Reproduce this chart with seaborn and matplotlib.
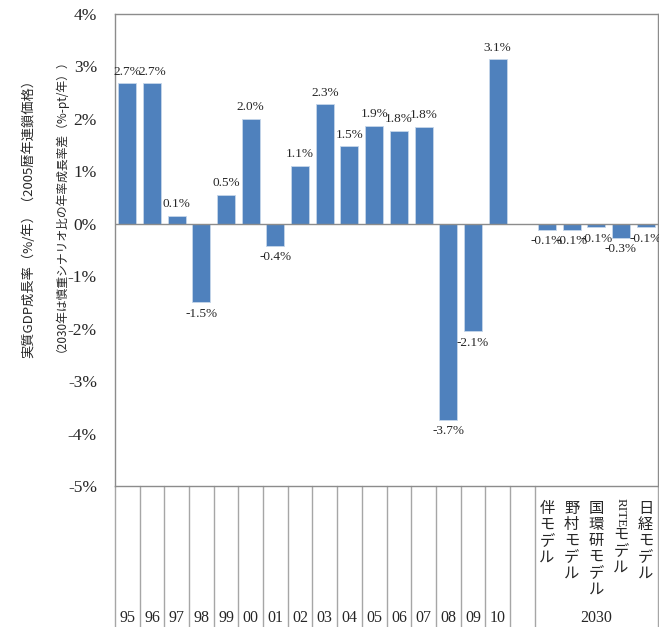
import matplotlib
matplotlib.use("Agg")
import matplotlib.pyplot as plt
import matplotlib.transforms as mtransforms
import seaborn as sns
import numpy as np
import pandas as pd

# ---------------- data ----------------
years = ["95", "96", "97", "98", "99", "00", "01", "02", "03", "04", "05", "06", "07", "08", "09", "10"]
year_values = [2.68, 2.68, 0.15, -1.50, 0.55, 2.00, -0.42, 1.11, 2.28, 1.48, 1.87, 1.77, 1.85, -3.74, -2.05, 3.14]
year_labels = ["2.7%", "2.7%", "0.1%", "-1.5%", "0.5%", "2.0%", "-0.4%", "1.1%", "2.3%", "1.5%",
               "1.9%", "1.8%", "1.8%", "-3.7%", "-2.1%", "3.1%"]
models = ["伴モデル", "野村モデル", "国環研モデル", "RITEモデル", "日経モデル"]
model_values = [-0.11, -0.11, -0.07, -0.27, -0.07]
model_labels = ["-0.1%", "-0.1%", "-0.1%", "-0.3%", "-0.1%"]
group_2030 = "2030"
yticks = [4, 3, 2, 1, 0, -1, -2, -3, -4, -5]
ylabel_line1 = "実質GDP成長率（%/年）（2005暦年連鎖価格）"
ylabel_line2 = "（2030年は慎重シナリオ比の年率成長率差（%-pt/年））"

# ---------------- build table ----------------
cats = years + ["_gap"] + models
vals = year_values + [np.nan] + model_values
labels = year_labels + [""] + model_labels
df = pd.DataFrame({"cat": cats, "val": vals})

sns.set_theme(style="white")
SERIF = ["Liberation Serif", "Noto Sans CJK JP"]
CJK = ["Noto Sans CJK JP", "DejaVu Sans"]
plt.rcParams["font.family"] = SERIF

fig = plt.figure(figsize=(6.59, 6.27), dpi=100)
AX_H = 486 - 14
ax = fig.add_axes([115 / 659, 1 - 486 / 627, (658 - 115) / 659, AX_H / 627])

sns.barplot(data=df, x="cat", y="val", order=cats, color="#4F81BD", saturation=1,
            width=0.73, edgecolor="#C6D6EA", linewidth=0.6, ax=ax)

ax.set_xlim(-0.5, len(cats) - 0.5)
ax.set_ylim(-5, 4)
ax.set_yticks(yticks)
ax.set_yticklabels([f"{t}%" for t in yticks], fontsize=12.5, family=SERIF)
ax.tick_params(axis="y", length=0, pad=13)
ax.set_xticks([])
ax.set_xlabel("")
ax.set_ylabel("")
for s in ax.spines.values():
    s.set_color("#8C8C8C")
    s.set_linewidth(1.0)
ax.axhline(0, color="#8C8C8C", lw=1.0, zorder=3)

# data labels
for i, (v, lab) in enumerate(zip(vals, labels)):
    if not lab:
        continue
    if v >= 0:
        ax.annotate(lab, (i, v), xytext=(0, 4), textcoords="offset points",
                    ha="center", va="bottom", fontsize=9.5, family=SERIF)
    else:
        ax.annotate(lab, (i, v), xytext=(0, -4), textcoords="offset points",
                    ha="center", va="top", fontsize=9.5, family=SERIF)

# bottom category table
trans = mtransforms.blended_transform_factory(ax.transData, ax.transAxes)
ybot = -(627 - 486) / AX_H
bounds = [b - 0.5 for b in range(len(years) + 2)] + [len(cats) - 0.5]
for b in bounds:
    ax.plot([b, b], [0, ybot], color="#A6A6A6", lw=1.0, transform=trans, clip_on=False)

y_year = -(618 - 486) / AX_H
for i, yr in enumerate(years):
    ax.text(i, y_year, yr, transform=trans, ha="center", va="center", fontsize=11.5, family=SERIF)

start = len(years) + 1
ax.text(start + 2, y_year, group_2030, transform=trans, ha="center", va="center",
        fontsize=11.5, family=SERIF)

y_top = -(500 - 486) / AX_H
for k, name in enumerate(models):
    x = start + k
    if name.startswith("RITE"):
        ax.text(x, y_top + 0.004, "RITE", transform=trans, ha="center", va="top",
                rotation=-90, fontsize=9.5, family=SERIF)
        rest = name[4:]
        yy = y_top - 26 / AX_H
    else:
        rest = name
        yy = y_top
    ax.text(x, yy, "\n".join(rest), transform=trans, ha="center", va="top",
            fontsize=11, family=CJK, linespacing=0.93)

# y label (two lines)
fig.text(28 / 659, 1 - 215 / 627, ylabel_line1, rotation=90, ha="center", va="center",
         fontsize=9.5, family=CJK)
fig.text(55 / 659, 1 - 200 / 627, ylabel_line2, rotation=90, ha="center", va="center",
         fontsize=8.5, family=CJK)

fig.savefig("out.png", dpi=100)
